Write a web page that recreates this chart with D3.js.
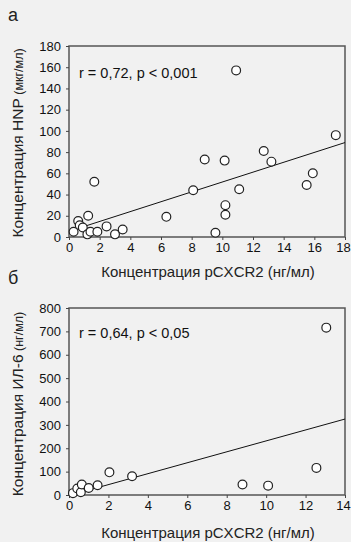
<!doctype html>
<html>
<head>
<meta charset="utf-8" />
<title>pCXCR2 scatter</title>
<script src="https://cdn.jsdelivr.net/npm/d3@7/dist/d3.min.js"></script>
<style>
  body { margin: 0; background: #f1f1f1; }
  svg { display: block; font-family: "Liberation Sans", Arial, sans-serif; }
  .tick text { font-size: 13px; fill: #111; }
</style>
</head>
<body>
<div id="chart"></div>
<script>
// panel а : pCXCR2 vs HNP
var xA = [0.3, 0.6, 0.7, 0.9, 1.2, 1.4, 1.25, 1.65, 1.85, 2.45, 3.0, 3.5, 6.35, 8.1, 8.85, 9.55, 10.15, 10.2, 10.2, 11.1, 12.7, 13.2, 15.5, 15.9, 17.4, 10.9];
var yA = [5, 15, 11, 9, 2.5, 5, 20, 52, 5, 10, 2.5, 7, 19, 44, 73, 4, 72, 30, 21, 45, 81, 71, 49, 60, 96, 157];
var regA = { x: [1, 18], y: [10, 89] };
var xTicksA = [0, 2, 4, 6, 8, 10, 12, 14, 16, 18];
var yTicksA = [0, 20, 40, 60, 80, 100, 120, 140, 160, 180];

// panel б : pCXCR2 vs ИЛ-6
var xB = [0.2, 0.42, 0.6, 0.65, 1.0, 1.45, 2.05, 3.2, 8.8, 10.1, 12.55, 13.05];
var yB = [8, 28, 12, 45, 30, 42, 97, 80, 45, 40, 116, 716];
var regB = { x: [0.4, 14], y: [7, 325] };
var xTicksB = [0, 2, 4, 6, 8, 10, 12, 14];
var yTicksB = [0, 100, 200, 300, 400, 500, 600, 700, 800];

var svg = d3.select('#chart').append('svg')
    .attr('width', 351)
    .attr('height', 542);

function panel(o) {
    var x = d3.scaleLinear().domain(o.xDom).range([69, 345]);
    var y = d3.scaleLinear().domain(o.yDom).range([o.bottom, o.top]);
    var g = svg.append('g');

    // box
    g.append('rect')
        .attr('x', x(o.xDom[0])).attr('y', y(o.yDom[1]))
        .attr('width', x(o.xDom[1]) - x(o.xDom[0]))
        .attr('height', y(o.yDom[0]) - y(o.yDom[1]))
        .style('fill', 'none').style('stroke', '#555').style('stroke-width', 1.5);

    var ax = g.append('g').attr('transform', 'translate(0,' + o.bottom + ')')
        .call(d3.axisBottom(x).tickValues(o.xTicks).tickSize(3).tickPadding(3).tickFormat(d3.format('d')));
    var ay = g.append('g').attr('transform', 'translate(69,0)')
        .call(d3.axisLeft(y).tickValues(o.yTicks).tickSize(3).tickPadding(5).tickFormat(d3.format('d')));
    [ax, ay].forEach(function (a) {
        a.select('.domain').remove();
        a.selectAll('.tick line').style('stroke', '#444');
    });
    // last x label sits on the page edge, nudge it in
    ax.selectAll('.tick text').filter(function (d) { return d === o.xDom[1]; }).attr('dx', '-2');

    // regression line
    g.append('line')
        .attr('x1', x(o.reg.x[0])).attr('y1', y(o.reg.y[0]))
        .attr('x2', x(o.reg.x[1])).attr('y2', y(o.reg.y[1]))
        .style('stroke', '#111').style('stroke-width', 1);

    g.selectAll('circle.pt')
        .data(o.xs.map(function (v, i) { return [v, o.ys[i]]; }))
        .enter().append('circle')
        .attr('class', 'pt')
        .attr('cx', function (d) { return x(d[0]); })
        .attr('cy', function (d) { return y(d[1]); })
        .attr('r', 4.4)
        .style('fill', '#fff')
        .style('stroke', '#222')
        .style('stroke-width', 1.2);

    g.append('text')
        .attr('x', 79).attr('y', o.statY)
        .style('font-size', '14.5px').style('fill', '#111')
        .text(o.stat);

    g.append('text')
        .attr('x', 208).attr('y', o.xLabY)
        .attr('text-anchor', 'middle')
        .style('font-size', '15px').style('fill', '#222')
        .text('Концентрация pCXCR2 (нг/мл)');

    var yl = g.append('text')
        .attr('transform', 'translate(23,' + o.yLabC + ') rotate(-90)')
        .attr('text-anchor', 'middle')
        .style('font-size', '15.5px').style('fill', '#222');
    yl.append('tspan').text(o.yLab);
    yl.append('tspan').style('font-size', '12.5px').text(' ' + o.yUnit);

    svg.append('text')
        .attr('x', 8).attr('y', o.letterY)
        .style('font-size', '18px').style('fill', '#222')
        .text(o.letter);
}

panel({
    xDom: [0, 18], yDom: [0, 180], top: 46, bottom: 237,
    xs: xA, ys: yA, reg: regA, xTicks: xTicksA, yTicks: yTicksA,
    stat: 'r = 0,72, p < 0,001', statY: 78,
    xLabY: 277, yLab: 'Концентрация HNP', yUnit: '(мкг/мл)', yLabC: 143,
    letter: 'а', letterY: 21
});

panel({
    xDom: [0, 14], yDom: [0, 800], top: 308, bottom: 495,
    xs: xB, ys: yB, reg: regB, xTicks: xTicksB, yTicks: yTicksB,
    stat: 'r = 0,64, p < 0,05', statY: 338,
    xLabY: 538, yLab: 'Концентрация ИЛ-6', yUnit: '(нг/мл)', yLabC: 404,
    letter: 'б', letterY: 284
});
</script>
</body>
</html>
